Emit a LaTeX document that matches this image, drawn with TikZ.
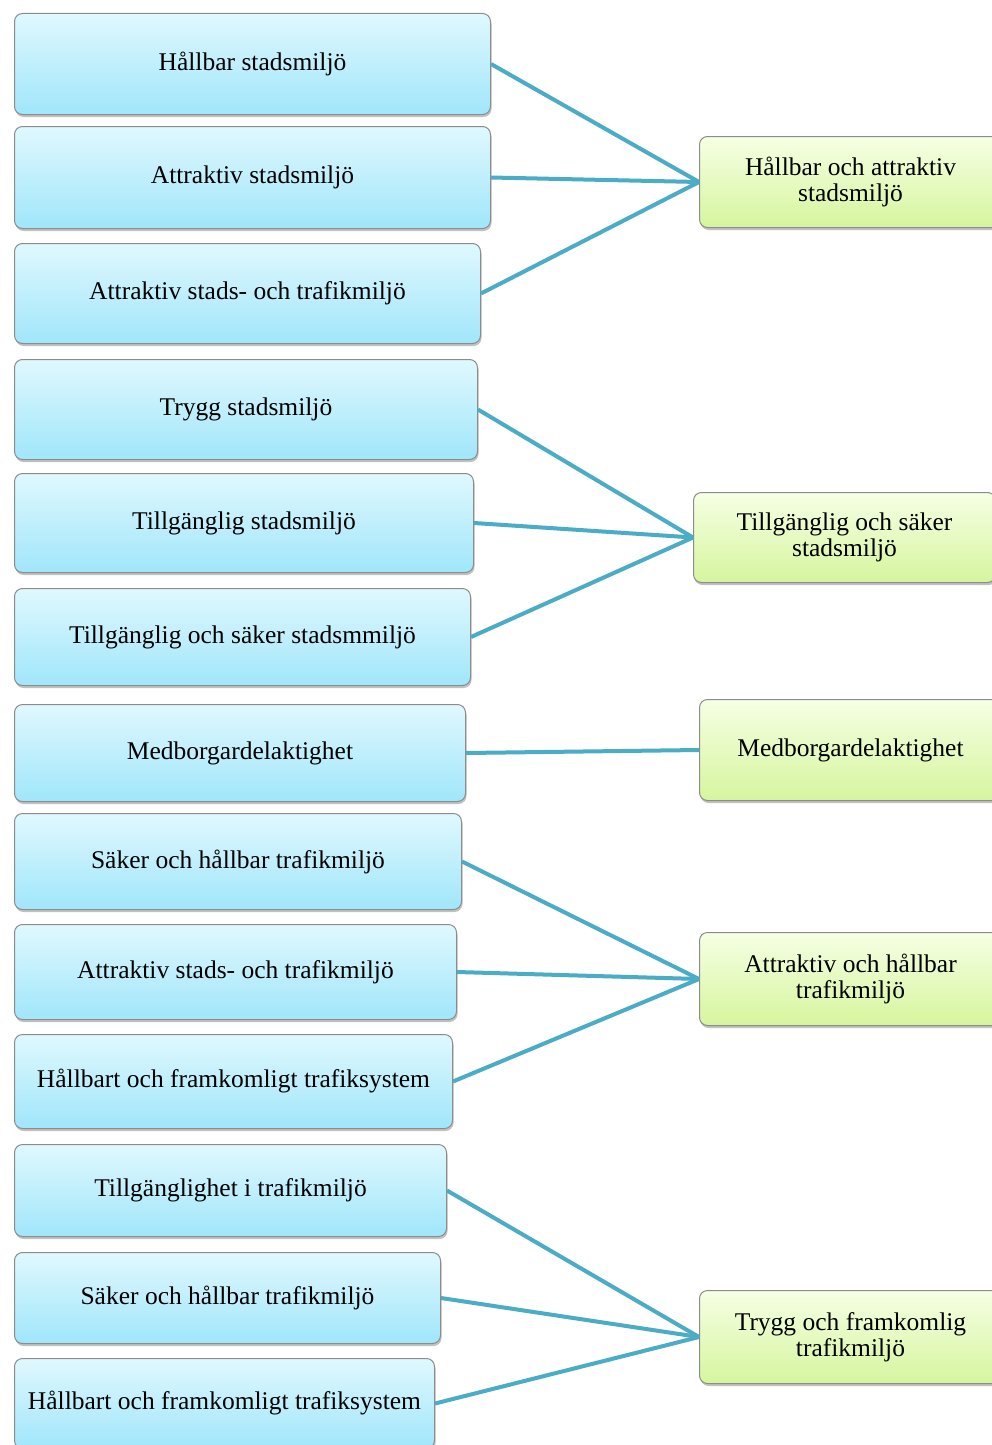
\documentclass[tikz,border=0pt]{standalone}
\usepackage{fontspec}
\setmainfont{Liberation Serif}
\usetikzlibrary{shadows}
\definecolor{lefttop}{RGB}{224,248,254}
\definecolor{leftbot}{RGB}{160,230,250}
\definecolor{righttop}{RGB}{246,255,228}
\definecolor{rightbot}{RGB}{214,245,158}
\definecolor{edge}{RGB}{140,140,140}
\definecolor{link}{RGB}{75,172,198}
\tikzset{
  card/.style={draw=edge, line width=1pt, rounded corners=8pt, anchor=north west,
    inner sep=4pt, align=center, font=\fontsize{25.5}{26}\selectfont,
    drop shadow={shadow xshift=1pt, shadow yshift=-2.5pt, opacity=0.4, fill=black!60}},
  lbox/.style={card, top color=lefttop, bottom color=leftbot},
  rbox/.style={card, top color=righttop, bottom color=rightbot, minimum width=302pt},
  linkline/.style={draw=link, line width=4pt}
}
\begin{document}
\begin{tikzpicture}[x=1pt,y=-1pt]
\path[use as bounding box, clip] (0,0) rectangle (992,1445);
\fill[white] (0,0) rectangle (992,1445);

% source topics
\node[lbox, minimum width=476pt, minimum height=101pt] (l1)  at (14,13)   {Hållbar stadsmiljö};
\node[lbox, minimum width=476pt, minimum height=102pt] (l2)  at (14,126)  {Attraktiv stadsmiljö};
\node[lbox, minimum width=466pt, minimum height=100pt] (l3)  at (14,243)  {Attraktiv stads- och trafikmiljö};
\node[lbox, minimum width=463pt, minimum height=100pt] (l4)  at (14,359)  {Trygg stadsmiljö};
\node[lbox, minimum width=459pt, minimum height=99pt]  (l5)  at (14,473)  {Tillgänglig stadsmiljö};
\node[lbox, minimum width=456pt, minimum height=97pt]  (l6)  at (14,588)  {Tillgänglig och säker stadsmmiljö};
\node[lbox, minimum width=451pt, minimum height=97pt]  (l7)  at (14,704)  {Medborgardelaktighet};
\node[lbox, minimum width=447pt, minimum height=96pt]  (l8)  at (14,813)  {Säker och hållbar trafikmiljö};
\node[lbox, minimum width=442pt, minimum height=95pt]  (l9)  at (14,924)  {Attraktiv stads- och trafikmiljö};
\node[lbox, minimum width=438pt, minimum height=94pt]  (l10) at (14,1034) {Hållbart och framkomligt trafiksystem};
\node[lbox, minimum width=432pt, minimum height=92pt]  (l11) at (14,1144) {Tillgänglighet i trafikmiljö};
\node[lbox, minimum width=426pt, minimum height=91pt]  (l12) at (14,1252) {Säker och hållbar trafikmiljö};
\node[lbox, minimum width=420pt, minimum height=90pt]  (l13) at (14,1358) {Hållbart och framkomligt trafiksystem};

% grouped themes
\node[rbox, minimum height=91pt]  (r1) at (699,136)  {Hållbar och attraktiv\\stadsmiljö};
\node[rbox, minimum height=90pt]  (r2) at (693,492)  {Tillgänglig och säker\\stadsmiljö};
\node[rbox, minimum height=101pt] (r3) at (699,699)  {Medborgardelaktighet};
\node[rbox, minimum height=93pt]  (r4) at (699,932)  {Attraktiv och hållbar\\trafikmiljö};
\node[rbox, minimum height=93pt]  (r5) at (699,1290) {Trygg och framkomlig\\trafikmiljö};

% connectors
\foreach \s/\t in {l1/r1, l2/r1, l3/r1, l4/r2, l5/r2, l6/r2, l7/r3,
                   l8/r4, l9/r4, l10/r4, l11/r5, l12/r5, l13/r5}
  \draw[linkline] (\s.east) -- (\t.west);
\end{tikzpicture}
\end{document}
